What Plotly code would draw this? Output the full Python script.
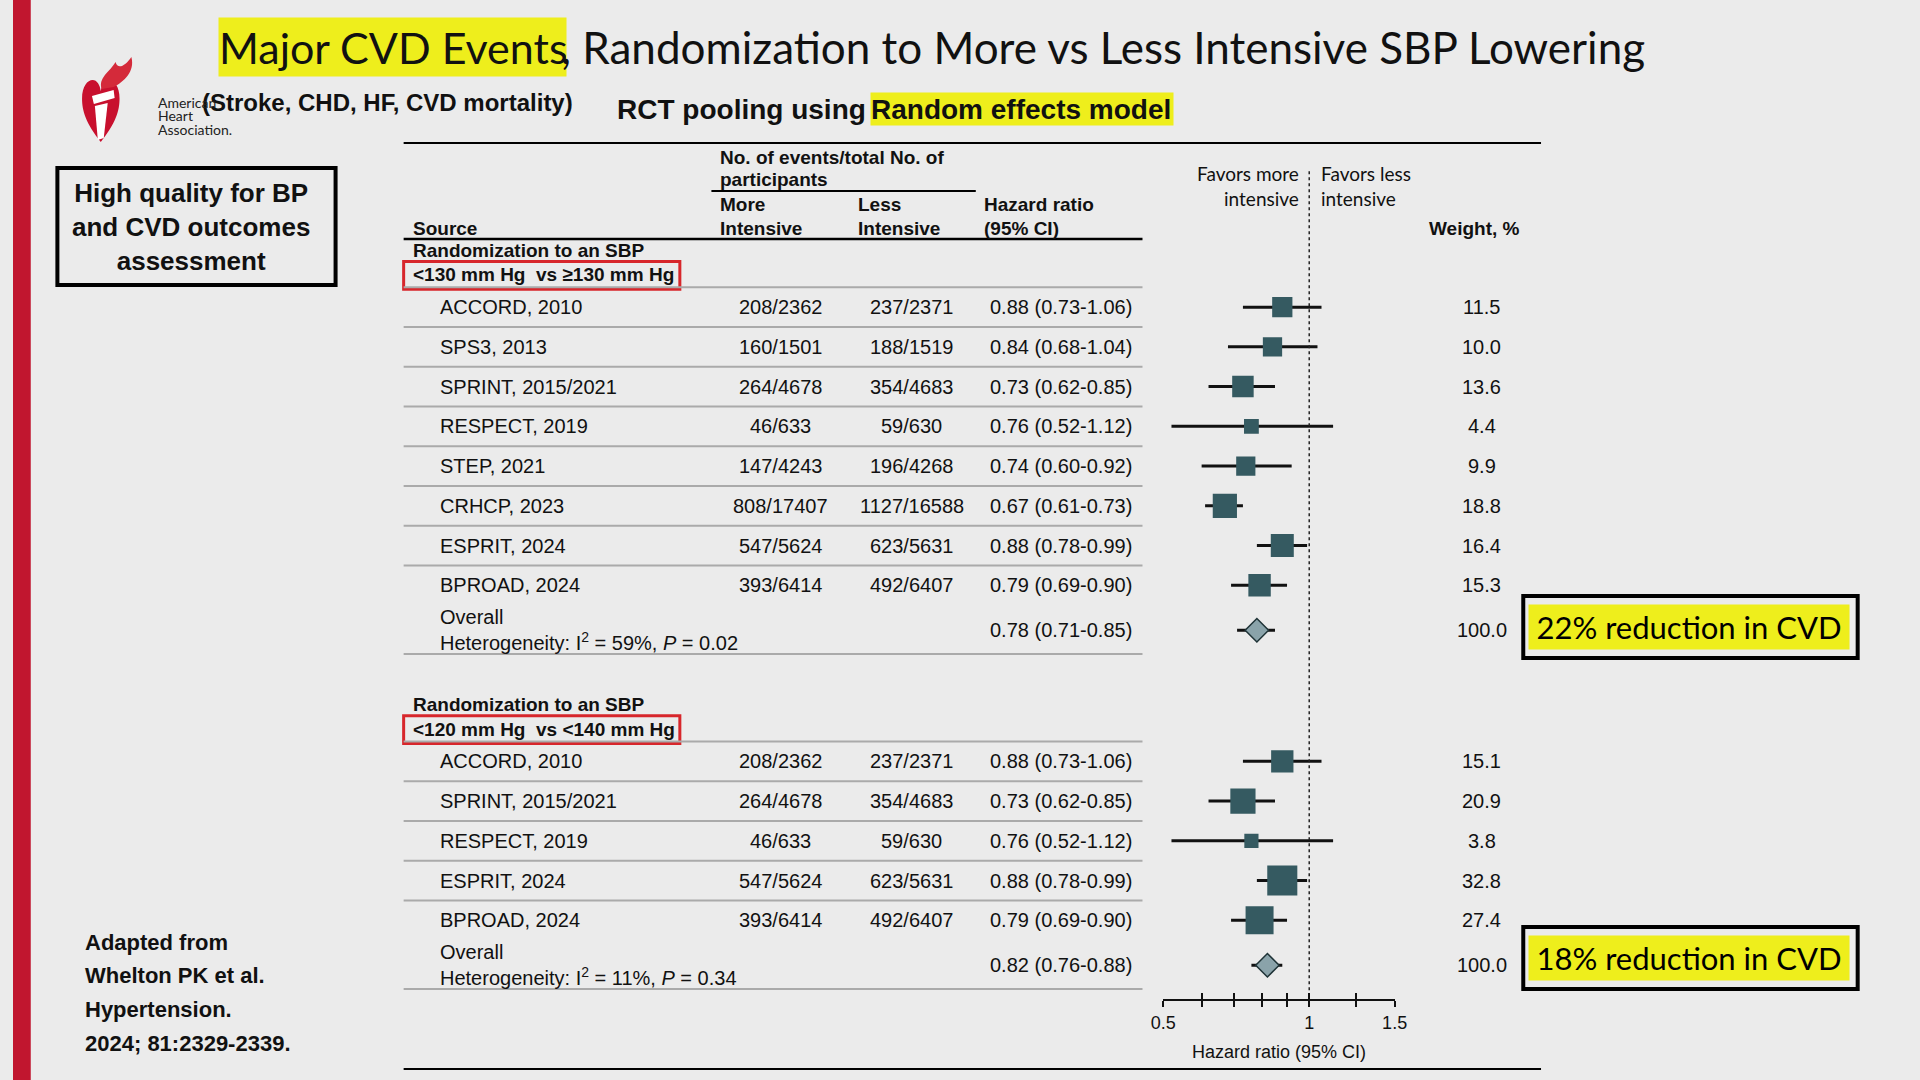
import numpy as np
import plotly.graph_objects as go

W, H = 1920, 1080

# --- data: randomization to SBP <130 vs >=130 mm Hg
g1_study = ['ACCORD, 2010', 'SPS3, 2013', 'SPRINT, 2015/2021', 'RESPECT, 2019',
            'STEP, 2021', 'CRHCP, 2023', 'ESPRIT, 2024', 'BPROAD, 2024']
g1_more = ['208/2362', '160/1501', '264/4678', '46/633', '147/4243', '808/17407', '547/5624', '393/6414']
g1_less = ['237/2371', '188/1519', '354/4683', '59/630', '196/4268', '1127/16588', '623/5631', '492/6407']
g1_hr = [0.88, 0.84, 0.73, 0.76, 0.74, 0.67, 0.88, 0.79]
g1_lo = [0.73, 0.68, 0.62, 0.52, 0.60, 0.61, 0.78, 0.69]
g1_hi = [1.06, 1.04, 0.85, 1.12, 0.92, 0.73, 0.99, 0.90]
g1_weight = [11.5, 10.0, 13.6, 4.4, 9.9, 18.8, 16.4, 15.3]
g1_overall = [0.78, 0.71, 0.85]
g1_i2, g1_p = 59, 0.02

# --- data: randomization to SBP <120 vs <140 mm Hg
g2_study = ['ACCORD, 2010', 'SPRINT, 2015/2021', 'RESPECT, 2019', 'ESPRIT, 2024', 'BPROAD, 2024']
g2_more = ['208/2362', '264/4678', '46/633', '547/5624', '393/6414']
g2_less = ['237/2371', '354/4683', '59/630', '623/5631', '492/6407']
g2_hr = [0.88, 0.73, 0.76, 0.88, 0.79]
g2_lo = [0.73, 0.62, 0.52, 0.78, 0.69]
g2_hi = [1.06, 0.85, 1.12, 0.99, 0.90]
g2_weight = [15.1, 20.9, 3.8, 32.8, 27.4]
g2_overall = [0.82, 0.76, 0.88]
g2_i2, g2_p = 11, 0.34

overall_weight = 100.0
reductions = ['22% reduction in CVD', '18% reduction in CVD']

tick_vals = [0.5, 0.6, 0.7, 0.8, 0.9, 1, 1.25, 1.5]
tick_text = ['0.5', '', '', '', '', '1', '', '1.5']
null_hr = 1.0

BG = '#ebebeb'
TEAL = '#355a61'
YELLOW = '#eeee1c'
RED = '#d7262b'
ARIAL = 'Liberation Sans, Arial, sans-serif'
CALIBRI = 'Lato, Noto Sans, sans-serif'


def px(x, y):
    # pixel position -> paper coords
    return x / W, 1 - y / H


fig = go.Figure()
shapes = []
annos = []


def text(x, y, s, size=20, bold=False, anchor='left', yref='paper', font=ARIAL, color='#111111', **kw):
    if yref == 'paper':
        xx, yy = px(x, y)
    else:
        xx, yy = x / W, y
    if bold:
        s = '<b>' + s + '</b>'
    annos.append(dict(x=xx, y=yy, xref='paper', yref=yref, text=s, showarrow=False,
                      xanchor=anchor, yanchor='middle', font=dict(family=font, size=size, color=color), **kw))


def hline(y, x0, x1, color='black', width=2, yref='paper'):
    if yref == 'paper':
        y = 1 - y / H
    shapes.append(dict(type='line', xref='paper', yref=yref, x0=x0 / W, x1=x1 / W, y0=y, y1=y,
                       line=dict(color=color, width=width)))


def add_group(study, more, less, hr, lo, hi, weight, overall, i2, p, start, label):
    rows = [start + i for i in range(len(study))]
    ov = rows[-1] + 1.13

    # group label with red box
    text(403, start - 1.42, 'Randomization to an SBP', 19, True, yref='y')
    text(403, start - 0.81, label, 19, True, yref='y')
    shapes.append(dict(type='rect', xref='paper', yref='y', x0=396 / W, x1=676 / W,
                       y0=start - 1.15, y1=start - 0.45, line=dict(color=RED, width=3)))

    for r, s, m, l, h, a, b, w in zip(rows, study, more, less, hr, lo, hi, weight):
        hline(r - 0.5, 396, 1145, '#aaaaaa', 2, 'y')
        text(431, r, s, yref='y')
        text(778, r, m, anchor='center', yref='y')
        text(911, r, l, anchor='center', yref='y')
        text(988, r, f'{h:.2f} ({a:.2f}-{b:.2f})', yref='y')
        text(1489, r, f'{w:.1f}', anchor='center', yref='y')

    hline(ov + 0.6, 396, 1145, '#aaaaaa', 2, 'y')
    text(431, ov - 0.33, 'Overall', yref='y')
    text(431, ov + 0.28, f'Heterogeneity: I<sup>2</sup> = {i2}%, <i>P</i> = {p:.2f}', yref='y')
    text(988, ov, f'{overall[0]:.2f} ({overall[1]:.2f}-{overall[2]:.2f})', yref='y')
    text(1489, ov, f'{overall_weight:.1f}', anchor='center', yref='y')

    # confidence intervals
    xs, ys = [], []
    for r, a, b in zip(rows, lo, hi):
        xs += [a, b, None]
        ys += [r, r, None]
    xs += [overall[1], overall[2]]
    ys += [ov, ov]
    fig.add_trace(go.Scatter(x=xs, y=ys, mode='lines', line=dict(color='#111111', width=3),
                             hoverinfo='skip', showlegend=False))
    fig.add_trace(go.Scatter(x=hr, y=rows, mode='markers', hoverinfo='skip', showlegend=False,
                             marker=dict(symbol='square', color=TEAL, opacity=1, line=dict(width=0),
                                         size=[6 + 4.2 * np.sqrt(w) for w in weight])))
    fig.add_trace(go.Scatter(x=[overall[0]], y=[ov], mode='markers', hoverinfo='skip', showlegend=False,
                             marker=dict(symbol='diamond', size=18, color='#8aa3aa', opacity=1,
                                         line=dict(color='#1f3337', width=1.5))))
    return ov


ov1 = add_group(g1_study, g1_more, g1_less, g1_hr, g1_lo, g1_hi, g1_weight, g1_overall,
                g1_i2, g1_p, 0, '&lt;130 mm Hg  vs ≥130 mm Hg')
ov2 = add_group(g2_study, g2_more, g2_less, g2_hr, g2_lo, g2_hi, g2_weight, g2_overall,
                g2_i2, g2_p, 11.43, '&lt;120 mm Hg  vs &lt;140 mm Hg')

y_bottom, y_top = 17.41, -4.13

# null line
fig.add_trace(go.Scatter(x=[null_hr, null_hr], y=[-3.42, y_bottom], mode='lines',
                         line=dict(color='#222222', width=1.5, dash='dot'),
                         hoverinfo='skip', showlegend=False))
# dummy trace for the inside-tick axis
fig.add_trace(go.Scatter(x=[null_hr], y=[None], xaxis='x2', showlegend=False, hoverinfo='skip'))

# table header
hline(143, 396, 1549)
hline(1069, 396, 1549)
hline(191, 708, 976)
hline(239, 396, 1145, width=2.5)
text(715, 157, 'No. of events/total No. of', 19, True)
text(715, 180, 'participants', 19, True)
text(715, 204, 'More', 19, True)
text(715, 228, 'Intensive', 19, True)
text(855, 204, 'Less', 19, True)
text(855, 228, 'Intensive', 19, True)
text(982, 204, 'Hazard ratio', 19, True)
text(982, 228, '(95% CI)', 19, True)
text(403, 228, 'Source', 19, True)
text(1482, 228, 'Weight, %', 19, True, anchor='center')
text(1306, 186, 'Favors more<br>intensive', 19, font=CALIBRI, anchor='right', align='right')
text(1324, 186, 'Favors less<br>intensive', 19, font=CALIBRI, align='left')

# slide title
text(208, 47, 'Major CVD Events', 43, font=CALIBRI, bgcolor=YELLOW, width=347, height=58, align='left',
     borderpad=0)
text(555, 47, ', Randomization to More vs Less Intensive SBP Lowering', 44, font=CALIBRI, borderpad=0)
text(190, 102, '(Stroke, CHD, HF, CVD mortality)', 24, True)
text(866, 109, 'RCT pooling using', 28, True, anchor='right', borderpad=0)
text(869, 109, 'Random effects model', 28, True, bgcolor=YELLOW, width=302, height=32, align='left',
     borderpad=0)

# side notes
text(180, 227, 'High quality for BP<br>and CVD outcomes<br>assessment', 26, True, anchor='center', align='center')
shapes.append(dict(type='rect', xref='paper', yref='paper', x0=45 / W, x1=327 / W,
                   y0=1 - 285 / H, y1=1 - 168 / H, line=dict(color='black', width=4)))
for i, s in enumerate(['Adapted from', 'Whelton PK et al.', 'Hypertension.', '2024; 81:2329-2339.']):
    text(71, 942 + 33.7 * i, s, 22, True)

for yc, s in zip([627, 958], reductions):
    shapes.append(dict(type='rect', xref='paper', yref='paper', x0=1531 / W, x1=1870 / W,
                       y0=1 - (yc + 31) / H, y1=1 - (yc - 31) / H, line=dict(color='black', width=4)))
    text(1536, yc, s, 31, font=CALIBRI, bgcolor=YELLOW, width=320, height=44, align='center', borderpad=0,
         color='black')

# left red bar
shapes.append(dict(type='rect', xref='paper', yref='paper', x0=0, x1=18 / W, y0=0, y1=1,
                   fillcolor='#c1162f', line=dict(width=0), layer='below'))


# AHA logo (simple heart + torch)
def path(pts):
    out = ''
    for cmd, *xy in pts:
        out += cmd
        for i in range(0, len(xy), 2):
            a, b = px(xy[i], xy[i + 1])
            out += f'{a:.5f},{b:.5f} '
    return out + 'Z'


def heart(u, v):
    return 70 + 38 * u, 80 + 62 * v


hp = [('M',) + heart(0.5, 1)]
for seg in [[(0.1, 0.7), (0, 0.5), (0, 0.3)], [(0, 0.1), (0.15, 0), (0.28, 0)],
            [(0.4, 0), (0.48, 0.08), (0.5, 0.18)], [(0.52, 0.08), (0.6, 0), (0.72, 0)],
            [(0.85, 0), (1, 0.1), (1, 0.3)], [(1, 0.5), (0.9, 0.7), (0.5, 1)]]:
    c = ('C',)
    for u, v in seg:
        c += heart(u, v)
    hp.append(c)
shapes.append(dict(type='path', xref='paper', yref='paper', path=path(hp),
                   fillcolor='#c8102e', line=dict(width=0)))
# torch handle and cup
shapes.append(dict(type='path', xref='paper', yref='paper',
                   path=path([('M', 86, 140), ('L', 83, 106), ('L', 96, 103), ('L', 92, 138)]),
                   fillcolor='white', line=dict(width=0)))
shapes.append(dict(type='path', xref='paper', yref='paper',
                   path=path([('M', 80, 96), ('L', 102, 90), ('L', 103, 98), ('L', 82, 104)]),
                   fillcolor='white', line=dict(width=0)))
# flame
shapes.append(dict(type='path', xref='paper', yref='paper',
                   path=path([('M', 90, 89), ('C', 86, 78, 98, 72, 104, 62), ('C', 106, 70, 114, 66, 120, 57),
                              ('C', 124, 72, 112, 82, 102, 87)]),
                   fillcolor='#d42a3a', line=dict(width=0)))
for i, s in enumerate(['American', 'Heart', 'Association.']):
    text(146, 102 + 13.5 * i, s, 14, font=CALIBRI, color='#222222', borderpad=0)

axis_common = dict(type='log', range=[np.log10(0.5), np.log10(1.5)], tickvals=tick_vals,
                   showgrid=False, zeroline=False, tickwidth=2, ticklen=6, tickcolor='#111111')

fig.update_layout(
    autosize=True, margin=dict(l=0, r=0, t=0, b=0),
    paper_bgcolor=BG, plot_bgcolor='rgba(0,0,0,0)', showlegend=False,
    xaxis=dict(domain=[1166 / W, 1400.6 / W], ticktext=tick_text, ticks='outside',
               showline=True, linecolor='#111111', linewidth=2,
               tickfont=dict(family=ARIAL, size=18, color='#111111'),
               title=dict(text='Hazard ratio (95% CI)', standoff=14,
                          font=dict(family=ARIAL, size=18, color='#111111')),
               **axis_common),
    xaxis2=dict(overlaying='x', anchor='y', side='bottom', ticks='inside', showticklabels=False,
                showline=False, **axis_common),
    yaxis=dict(domain=[1 - 999 / H, 1 - 143 / H], range=[y_bottom, y_top], visible=False),
    shapes=shapes, annotations=annos,
)

fig.write_html('out.html', config={'displayModeBar': False, 'responsive': True},
               default_width='100vw', default_height='100vh',
               post_script="document.body.style.margin='0';document.body.style.overflow='hidden';")
